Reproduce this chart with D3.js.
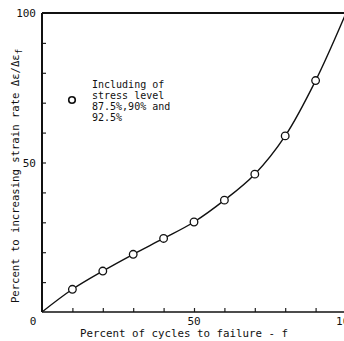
<!DOCTYPE html>
<html>
<head>
<meta charset="utf-8">
<script src="https://cdn.jsdelivr.net/npm/d3@7/dist/d3.min.js"></script>
<style>
  html, body { margin: 0; padding: 0; background: #fff; }
  svg { display: block; }
  text { font-family: "DejaVu Sans Mono", "Liberation Mono", monospace; fill: #111; }
</style>
</head>
<body>
<script>
// Percent of cycles to failure (x) vs percent increase of strain rate (y)
const cyclePct = [10, 20, 30, 40, 50, 60, 70, 80, 90];
const strainPct = [7.6, 13.7, 19.3, 24.6, 30.1, 37.4, 46.1, 58.9, 77.4];
// fitted curve runs from the origin through the points to (100, 100)
const curveX = [0, 10, 20, 30, 40, 50, 60, 70, 80, 90, 100];
const curveY = [0, 7.6, 13.7, 19.3, 24.6, 30.1, 37.4, 46.1, 58.9, 77.4, 100];
const xTickLabels = ["0", "50", "100"];
const yTickLabels = ["50", "100"];
const legendLines = ["Including of", "stress level", "87.5%,90% and", "92.5%"];

const W = 344, H = 341;
const svg = d3.select("body").append("svg").attr("width", W).attr("height", H);

const x = d3.scaleLinear().domain([0, 100]).range([42, 346]);
const y = d3.scaleLinear().domain([0, 100]).range([312, 13]);

// inward ticks every 10 units
const ticks = d3.range(10, 100, 10);
const gx = svg.append("g").attr("transform", `translate(0,${y(0)})`)
  .call(d3.axisTop(x).tickValues(ticks).tickSize(4).tickFormat(""));
const gy = svg.append("g").attr("transform", `translate(${x(0)},0)`)
  .call(d3.axisRight(y).tickValues(ticks).tickSize(4).tickFormat(""));
[gx, gy].forEach(g => {
  g.select(".domain").remove();
  g.selectAll(".tick line").attr("stroke", "#222").attr("stroke-width", 1.2);
});

// frame
const frame = svg.append("g").attr("stroke", "#111").attr("fill", "none");
frame.append("line").attr("x1", x(0)).attr("x2", x(0)).attr("y1", y(100)).attr("y2", y(0)).attr("stroke-width", 2);
frame.append("line").attr("x1", x(0)).attr("x2", x(100)).attr("y1", y(0)).attr("y2", y(0)).attr("stroke-width", 1.6);
frame.append("line").attr("x1", x(0)).attr("x2", x(100)).attr("y1", y(100)).attr("y2", y(100)).attr("stroke-width", 2);
frame.append("line").attr("x1", x(100)).attr("x2", x(100)).attr("y1", y(100)).attr("y2", y(0)).attr("stroke-width", 2);

// tick labels
svg.append("g").selectAll("text").data(xTickLabels).join("text")
  .attr("x", d => d === "0" ? 33 : x(+d))
  .attr("y", 325)
  .attr("text-anchor", "middle")
  .attr("font-size", 11)
  .text(d => d);
svg.append("g").selectAll("text").data(yTickLabels).join("text")
  .attr("x", 36)
  .attr("y", d => y(+d) + 4)
  .attr("text-anchor", "end")
  .attr("font-size", 11)
  .text(d => d);

// curve
const pts = curveX.map((v, i) => [v, curveY[i]]);
svg.append("path")
  .datum(pts)
  .attr("fill", "none")
  .attr("stroke", "#111")
  .attr("stroke-width", 1.4)
  .attr("d", d3.line().x(d => x(d[0])).y(d => y(d[1])).curve(d3.curveCatmullRom.alpha(0.5)));

// markers
svg.append("g").selectAll("circle")
  .data(cyclePct.map((v, i) => [v, strainPct[i]]))
  .join("circle")
  .attr("cx", d => x(d[0]))
  .attr("cy", d => y(d[1]))
  .attr("r", 3.8)
  .attr("fill", "#fff")
  .attr("stroke", "#111")
  .attr("stroke-width", 1.3);

// legend
svg.append("circle").attr("cx", 72).attr("cy", 100).attr("r", 3.3)
  .attr("fill", "#fff").attr("stroke", "#111").attr("stroke-width", 1.6);
svg.append("g").selectAll("text").data(legendLines).join("text")
  .attr("x", 92)
  .attr("y", (d, i) => 88 + i * 11)
  .attr("font-size", 10)
  .text(d => d);

// axis titles
svg.append("text")
  .attr("x", 184).attr("y", 337)
  .attr("text-anchor", "middle")
  .attr("font-size", 10.8)
  .text("Percent of cycles to failure - f");

const yt = svg.append("text")
  .attr("transform", "translate(19,176) rotate(-90)")
  .attr("text-anchor", "middle")
  .attr("font-size", 10.6);
yt.append("tspan").text("Percent to increasing strain rate Δε/Δε");
yt.append("tspan").attr("dy", 3).attr("font-size", 9).text("f");
</script>
</body>
</html>
